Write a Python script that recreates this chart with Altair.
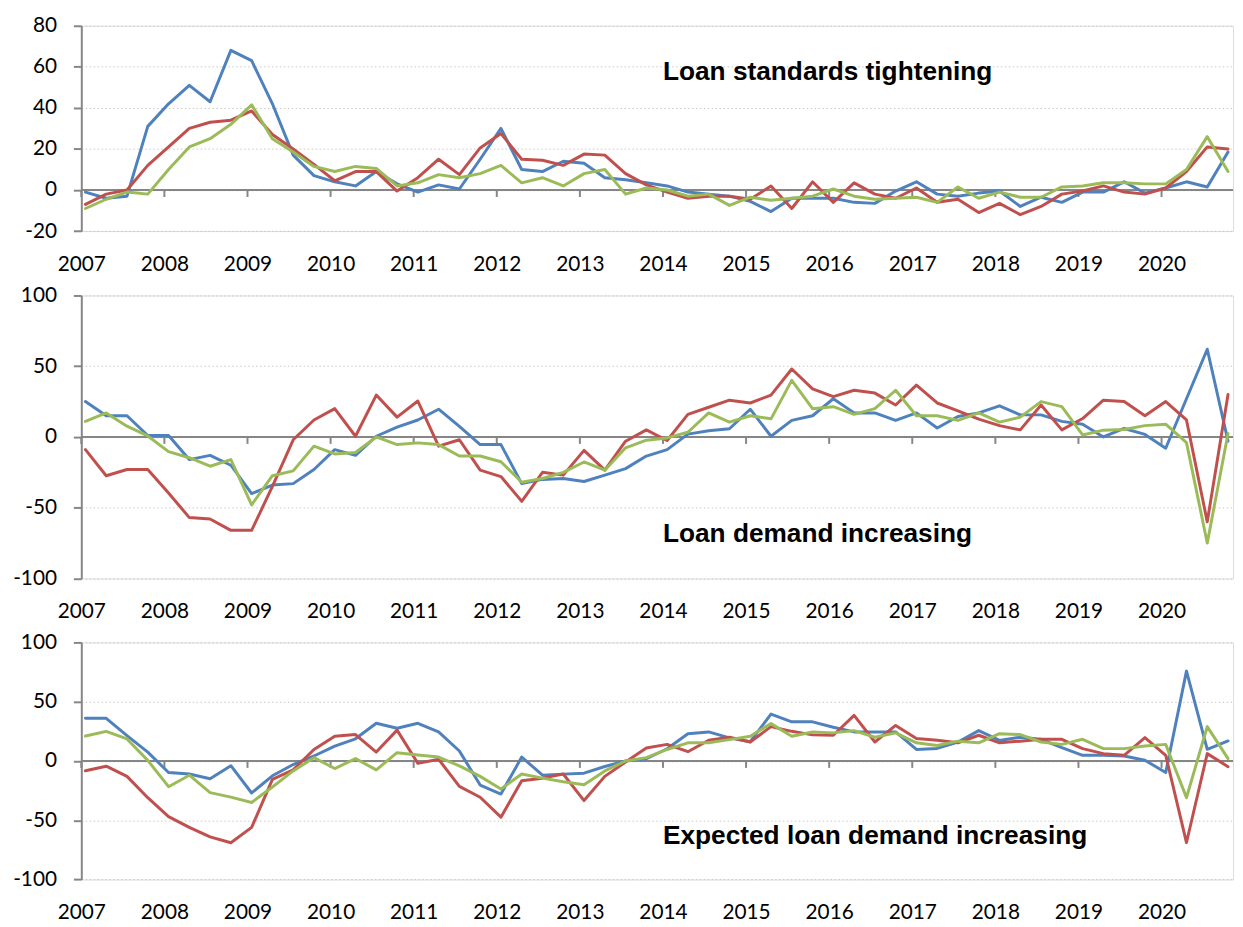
import altair as alt
import pandas as pd

# ---------------- data ----------------
years = list(range(2007, 2021))
quarters = [f"{y}Q{q}" for y in years for q in range(1, 5)]
series = ["Loans to enterprises", "Loans for house purchase", "Consumer credit and other lending"]
colors = ["#4F81BD", "#C0504D", "#9BBB59"]

# Panel 1: loan standards tightening
std_ent = [-1, -4, -3, 31, 42, 51, 43, 68, 63, 42,
           17, 7, 4, 2, 9, 3, -1, 2.5, 0.5, 15,
           30, 10, 9, 14, 13, 6, 5, 3.5, 2, -1,
           -2, -3, -5.5, -10.5, -4, -4, -4, -6, -6.5, -0.5,
           4, -2, -3, -1.5, -0.5, -8, -3.5, -6, -1, -1,
           4, -1.5, 1, 4, 1.5, 18.5]
std_hh = [-7, -2, 0, 12, 21, 30, 33, 34, 38.5, 27,
          20, 12.5, 4.5, 9, 9, -0.5, 6, 15, 7.5, 20.5,
          27.5, 15, 14.5, 12, 17.5, 17, 8, 2.5, -1, -4,
          -3, -3, -4.5, 2, -9, 4, -6, 3.5, -2, -4,
          1, -6, -4.5, -11, -6.5, -12, -8, -2, -0.5, 2,
          -1, -2, 1, 9, 21, 20]
std_cc = [-9, -4.5, -1, -2, 10, 21, 25, 32, 41.5, 25,
          18.5, 11.5, 9, 11.5, 10.5, 2, 3.5, 7.5, 6, 8,
          12, 3.5, 6, 2, 8, 10, -2, 1, 0, -3,
          -2, -7.5, -3.5, -5, -4, -3, 0.5, -3, -4.5, -4,
          -3.5, -6, 1.5, -4, -1, -3.5, -3.5, 1.5, 2, 3.5,
          3.5, 3, 3, 10, 26, 9]

# Panel 2: loan demand increasing
dem_ent = [25, 15, 15, 1, 1, -16, -13, -20, -40, -34,
           -33, -23, -9, -13, 0.5, 7, 12, 19.6, 7.5, -5.4,
           -5.4, -33, -30, -29.4, -31.5, -27, -22.4, -13.5, -9, 2,
           4.4, 5.8, 19.6, 0.5, 11.7, 15, 27, 17, 17, 11.7,
           17, 6.3, 14.5, 17, 22, 15.6, 15.6, 11, 9, 0,
           6, 1.8, -8, 27, 62, -3]
dem_hh = [-9, -27.4, -23, -23, -39.6, -57, -58, -66, -66, -35,
          -2, 12, 20, 0.5, 29.6, 14, 25.4, -6.5, -2, -23.5,
          -28, -45.5, -25, -27, -9.5, -23.5, -3, 5, -2.5, 16,
          21, 26, 24, 29.6, 48, 34, 28.5, 33, 31, 22.6,
          36.6, 24, 18.4, 12.6, 8, 5, 22.6, 5, 13, 26,
          25, 15, 25, 12, -60, 30]
dem_cc = [11, 17, 7.6, 0.7, -10.4, -14.7, -20.7, -16, -48, -27.4,
          -24, -6.5, -12, -11, 0, -5.4, -4.2, -5.4, -13.5, -13.5,
          -17.5, -32, -29.4, -25, -17.7, -23.5, -7.7, -2.3, -0.7, 3.3,
          17, 10.5, 15, 12.8, 40, 20, 21.4, 16, 20, 33,
          15, 15, 11.7, 17, 10.5, 14, 25, 21.4, 1.4, 4.8,
          5.3, 8, 9, -4, -75, 2.5]

# Panel 3: expected loan demand increasing
exp_ent = [36, 36, 21.4, 7.5, -9.7, -11, -15, -4, -27, -12.5,
           -3, 4.2, 12.5, 18.7, 31.8, 27.6, 31.8, 24.5, 8.4, -20.3,
           -27.9, 3.3, -12, -11.1, -10.3, -4.7, 0, 1.9, 10.3, 23,
           24.5, 19.5, 16.2, 39.6, 33, 33, 28.4, 24.5, 24.5, 24.5,
           9.7, 10.6, 15.9, 25.6, 17.3, 20, 18.3, 11.2, 4.8, 4.8,
           4.2, 0.6, -9.8, 75.8, 9.8, 16.9]
exp_hh = [-8.3, -4.4, -13, -31, -47, -56, -64, -69, -56, -15.5,
          -7.5, 9.7, 20.9, 22.3, 7.5, 26, -2, 1.4, -21.4, -30.6,
          -47.4, -16.7, -14.5, -11, -33.4, -13, -0.8, 11, 14, 7.8,
          17.5, 20, 16, 29, 25, 22, 21.7, 38.4, 16, 30,
          19, 17.5, 15.3, 21.7, 15.3, 16.7, 18.3, 18.3, 10.4, 6.2,
          4.8, 19.7, 4.8, -68.8, 6.2, -4.8]
exp_cc = [21, 25, 18.6, 0.5, -21.7, -12, -26.7, -30.5, -35, -22,
          -8.4, 2.8, -6.4, 2, -7.5, 7, 5, 3.3, -4.2, -13,
          -23.7, -11, -14.5, -17.5, -20, -8.4, 0, 2.8, 9.7, 15.3,
          15.3, 18, 20.9, 31.5, 20.9, 24.5, 23.7, 25.6, 20, 23.7,
          15.3, 13, 16.7, 15.3, 23, 22.3, 16, 14, 18.3, 10.4,
          10.4, 12.6, 14, -30.9, 29, 2]

titles = ["Loan standards tightening", "Loan demand increasing", "Expected loan demand increasing"]
title_x = [2014.0, 2014.0, 2014.0]
title_y = [53.5, -74.5, -70.0]

# ---------------- helpers ----------------
FONT = "Lato"
AX = "#868686"
X_MAX = 2020.86
W = (X_MAX - 2007) * 83.9


def qpos(label):
    y, q = label.split("Q")
    return int(y) + (int(q) - 1) / 4 + 0.05


def long_df(vals_list):
    rows = []
    for s, vals in zip(series, vals_list):
        for q, v in zip(quarters, vals):
            rows.append({"quarter": q, "t": qpos(q), "series": s, "value": v})
    return pd.DataFrame(rows)


def panel(df, domain, ticks, height, idx):
    x = alt.X("t:Q", scale=alt.Scale(domain=[2007, X_MAX], nice=False, zero=False),
              axis=alt.Axis(values=years, format="d", title=None, grid=False, domain=False,
                            ticks=False, tickSize=0, labelPadding=22.5, labelFontSize=21,
                            labelFont=FONT, labelColor="black", labelFlush=False,
                            labelOverlap=False))
    y = alt.Y("value:Q", scale=alt.Scale(domain=domain, nice=False, zero=False),
              axis=alt.Axis(values=ticks, title=None, grid=True, gridColor="#C8C8C8",
                            gridDash=[1.5, 2.5], gridWidth=1, domainColor=AX, domainWidth=2,
                            tickColor=AX, tickSize=8, tickWidth=2, labelPadding=17,
                            labelExpr="datum.value + ''",
                            labelFontSize=21, labelFont=FONT, labelColor="black"))
    zero = alt.Chart(pd.DataFrame({"value": [0]})).mark_rule(color=AX, strokeWidth=2).encode(y=y)
    yt = alt.Chart(pd.DataFrame({"t": years, "value": [0] * len(years)})).mark_rule(
        color=AX, strokeWidth=2, y2Offset=7).encode(x=x, y=y, y2=alt.Y2("value"))
    lines = alt.Chart(df).mark_line(strokeWidth=3, strokeJoin="round", strokeCap="round").encode(
        x=x, y=y,
        color=alt.Color("series:N", scale=alt.Scale(domain=series, range=colors), legend=None),
        detail="series:N")
    txt = alt.Chart(pd.DataFrame({"t": [title_x[idx]], "value": [title_y[idx]],
                                  "label": [titles[idx]]})).mark_text(
        align="left", baseline="alphabetic", font="Liberation Sans", fontWeight="bold",
        fontSize=26.5, color="black").encode(x=x, y=y, text="label:N")
    return alt.layer(zero, yt, lines, txt).properties(width=W, height=height)


p1 = panel(long_df([std_ent, std_hh, std_cc]), [-20, 80], [-20, 0, 20, 40, 60, 80], 207.3, 0)
p2 = panel(long_df([dem_ent, dem_hh, dem_cc]), [-100, 100], [-100, -50, 0, 50, 100], 285.7, 1)
p3 = panel(long_df([exp_ent, exp_hh, exp_cc]), [-100, 100], [-100, -50, 0, 50, 100], 239.4, 2)

chart = alt.vconcat(p1, p2, p3, spacing=64.3, bounds="flush").properties(
    padding={"left": 4, "top": 1.5, "right": 0, "bottom": 0}
).configure_view(stroke=None).configure(background="white")

chart.save("out.html", embed_options={"renderer": "svg", "actions": False})
